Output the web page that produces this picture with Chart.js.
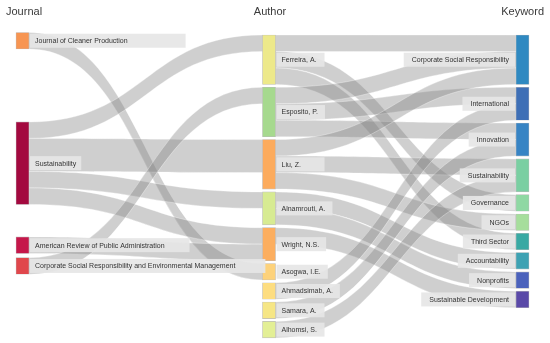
<!DOCTYPE html>
<html>
<head>
<meta charset="utf-8">
<script src="https://cdn.jsdelivr.net/npm/chart.js@4.4.1/dist/chart.umd.min.js"></script>
<style>
  html, body { margin: 0; padding: 0; background: #fff; }
  #wrap { width: 550px; height: 343px; position: relative; }
</style>
</head>
<body>
<div id="wrap"><canvas id="threeField"></canvas></div>
<script>
// Three-field plot: Journal -> Author -> Keyword
const columns = ['Journal', 'Author', 'Keyword'];

const journals = [
  'Journal of Cleaner Production',
  'Sustainability',
  'American Review of Public Administration',
  'Corporate Social Responsibility and Environmental Management'
];
const authors = [
  'Ferreira, A.', 'Esposito, P.', 'Liu, Z.', 'Alnamrouti, A.', 'Wright, N.S.',
  'Asogwa, I.E.', 'Ahmadsimab, A.', 'Samara, A.', 'Alhomsi, S.'
];
const keywords = [
  'Corporate Social Responsibility', 'International', 'Innovation', 'Sustainability',
  'Governance', 'NGOs', 'Third Sector', 'Accountability', 'Nonprofits', 'Sustainable Development'
];

// journal -> author (documents)
const journalLinks = [
  ['Journal of Cleaner Production', 'Asogwa, I.E.', 1],
  ['Sustainability', 'Ferreira, A.', 1],
  ['Sustainability', 'Liu, Z.', 2],
  ['Sustainability', 'Alnamrouti, A.', 1],
  ['Sustainability', 'Wright, N.S.', 1],
  ['American Review of Public Administration', 'Wright, N.S.', 1],
  ['Corporate Social Responsibility and Environmental Management', 'Esposito, P.', 1]
];

// author -> keyword (documents)
const authorLinks = [
  ['Ferreira, A.', 'Corporate Social Responsibility', 1],
  ['Ferreira, A.', 'Governance', 1],
  ['Ferreira, A.', 'Third Sector', 1],
  ['Esposito, P.', 'Corporate Social Responsibility', 1],
  ['Esposito, P.', 'International', 1],
  ['Esposito, P.', 'Innovation', 1],
  ['Liu, Z.', 'Corporate Social Responsibility', 1],
  ['Liu, Z.', 'Sustainability', 1],
  ['Liu, Z.', 'NGOs', 1],
  ['Alnamrouti, A.', 'Accountability', 1],
  ['Alnamrouti, A.', 'Nonprofits', 1],
  ['Wright, N.S.', 'Sustainable Development', 1],
  ['Ahmadsimab, A.', 'International', 1],
  ['Samara, A.', 'Innovation', 1],
  ['Alhomsi, S.', 'Sustainability', 1]
];

// colours
const journalColors = ['#f79552', '#a3093f', '#c5174a', '#e0474c'];
const authorColors = ['#ede98a', '#a6d98e', '#fcab5d', '#d7eb92', '#fcae5f', '#fdd27b', '#fddd80', '#f6e685', '#e3ef95'];
const keywordColors = ['#2f89c1', '#3e6fb6', '#3784c4', '#7acfa2', '#8fd8a3', '#a6de9c', '#39a9a3', '#3ea2b3', '#4b62bc', '#5a49a8'];

// layout (x in canvas units, y in document units)
const colX = [22.5, 269, 522.5];
const nodeGap = 0.17;
const journalTop = [-0.15, 5.27, 12.24, 13.5];
const journalBoxPad = [58, 5, 25, 30];
const FONT = '"Liberation Sans", Arial, sans-serif';

// build nodes
const nodes = [];
function addColumn(names, col, colors) {
  names.forEach((name, i) => nodes.push({ name, col, color: colors[i], ins: [], outs: [] }));
}
addColumn(journals, 0, journalColors);
addColumn(authors, 1, authorColors);
addColumn(keywords, 2, keywordColors);
const byKey = (col, name) => nodes.find(n => n.col === col && n.name === name);

const links = [];
journalLinks.forEach(([s, t, v]) => links.push({ src: byKey(0, s), tgt: byKey(1, t), value: v }));
authorLinks.forEach(([s, t, v]) => links.push({ src: byKey(1, s), tgt: byKey(2, t), value: v }));
links.forEach(l => { l.src.outs.push(l); l.tgt.ins.push(l); });

nodes.forEach(n => {
  const vin = n.ins.reduce((a, l) => a + l.value, 0);
  const vout = n.outs.reduce((a, l) => a + l.value, 0);
  n.size = Math.max(vin, vout);
});

// vertical placement
[0, 1, 2].forEach(col => {
  let y = 0;
  nodes.filter(n => n.col === col).forEach((n, i) => {
    n.y0 = col === 0 ? journalTop[i] : y;
    n.y1 = n.y0 + n.size;
    y = n.y1 + nodeGap;
  });
});

// stack links inside each node, ordered by the other end
nodes.forEach(n => {
  n.outs.sort((a, b) => a.tgt.y0 - b.tgt.y0);
  n.ins.sort((a, b) => a.src.y0 - b.src.y0);
  let o = n.y0;
  n.outs.forEach(l => { l.sy0 = o; o += l.value; l.sy1 = o; });
  let i = n.y0;
  n.ins.forEach(l => { l.ty0 = i; i += l.value; l.ty1 = i; });
});

const HALF = 6.5;

const linkPlugin = {
  id: 'links',
  beforeDatasetsDraw(chart) {
    const { ctx, scales: { x, y } } = chart;
    ctx.save();
    links.forEach(l => {
      const x0 = x.getPixelForValue(colX[l.src.col]) + HALF;
      const x1 = x.getPixelForValue(colX[l.tgt.col]) - HALF;
      const xm = (x0 + x1) / 2;
      const a0 = y.getPixelForValue(l.sy0), a1 = y.getPixelForValue(l.sy1);
      const b0 = y.getPixelForValue(l.ty0), b1 = y.getPixelForValue(l.ty1);
      ctx.beginPath();
      ctx.moveTo(x0, a0);
      ctx.bezierCurveTo(xm, a0, xm, b0, x1, b0);
      ctx.lineTo(x1, b1);
      ctx.bezierCurveTo(xm, b1, xm, a1, x0, a1);
      ctx.closePath();
      ctx.fillStyle = 'rgba(128,128,128,0.38)';
      ctx.fill();
      ctx.strokeStyle = 'rgba(255,255,255,0.55)';
      ctx.lineWidth = 0.6;
      ctx.stroke();
    });
    ctx.restore();
  }
};

const labelPlugin = {
  id: 'labels',
  afterDatasetsDraw(chart) {
    const { ctx, scales: { x, y } } = chart;
    ctx.save();
    ctx.font = '7px ' + FONT;
    ctx.textBaseline = 'middle';
    let jIdx = 0;
    nodes.forEach(n => {
      const cx = x.getPixelForValue(colX[n.col]);
      const cy = (y.getPixelForValue(n.y0) + y.getPixelForValue(n.y1)) / 2;
      const tw = ctx.measureText(n.name).width;
      let bx, bw, tx;
      if (n.col === 0) {
        bx = cx + HALF + 1;
        bw = tw + 5 + journalBoxPad[jIdx++];
        tx = bx + 5;
        ctx.textAlign = 'left';
      } else if (n.col === 1) {
        bx = cx + HALF + 1;
        bw = Math.max(tw + 12, 48);
        tx = bx + 5;
        ctx.textAlign = 'left';
      } else {
        bw = tw + 14;
        bx = cx - HALF - 1 - bw;
        tx = cx - HALF - 7;
        ctx.textAlign = 'right';
      }
      ctx.fillStyle = 'rgba(230,230,230,0.93)';
      ctx.fillRect(bx, cy - 7, bw, 14);
      ctx.fillStyle = '#333';
      ctx.fillText(n.name, tx, cy + 0.5);
    });
    // column titles
    ctx.font = '11px ' + FONT;
    ctx.textBaseline = 'alphabetic';
    ctx.fillStyle = '#3a3a3a';
    ctx.textAlign = 'left';
    ctx.fillText(columns[0], 6, 15);
    ctx.textAlign = 'center';
    ctx.fillText(columns[1], x.getPixelForValue(colX[1]) + 1, 15);
    ctx.textAlign = 'right';
    ctx.fillText(columns[2], 544, 15);
    ctx.restore();
  }
};

new Chart(document.getElementById('threeField'), {
  type: 'bar',
  data: {
    datasets: [{
      data: nodes.map(n => ({ x: colX[n.col], y: [n.y0, n.y1] })),
      backgroundColor: nodes.map(n => n.color),
      borderColor: 'rgba(60,60,60,0.35)',
      borderWidth: 0.6,
      borderSkipped: false,
      barThickness: 13
    }]
  },
  options: {
    responsive: true,
    maintainAspectRatio: false,
    animation: false,
    layout: { padding: 0 },
    scales: {
      x: { type: 'linear', min: 0, max: 550, offset: false, display: false },
      y: { type: 'linear', min: -2.12, max: 18.67, reverse: true, display: false }
    },
    plugins: { legend: { display: false }, tooltip: { enabled: false } }
  },
  plugins: [linkPlugin, labelPlugin]
});
</script>
</body>
</html>
